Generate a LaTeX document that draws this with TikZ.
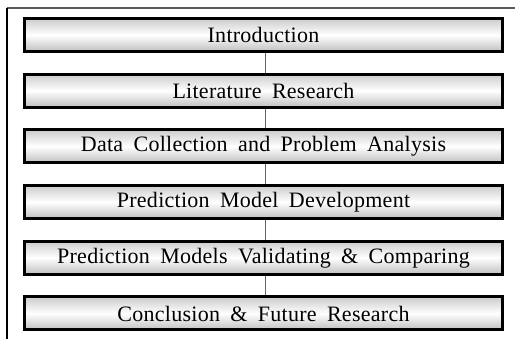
\documentclass[tikz,border=0pt]{standalone}
\usepackage{fontspec}
\setmainfont{Liberation Serif}[WordSpace=1.8,LetterSpace=1.2]
\begin{document}
\begin{tikzpicture}[x=1pt,y=-1pt,
  stagebox/.style={draw=black, line width=3pt, minimum width=478pt, minimum height=33pt,
    inner sep=0pt, top color=gray!40, bottom color=gray!50, middle color=white,
    font=\fontsize{22}{24}\selectfont, text=black},
  link/.style={draw=gray!80!black, line width=0.6pt}]
\useasboundingbox (0,0) rectangle (515,339);
\coordinate (ftl) at (6.5,8);
\coordinate (ftr) at (515,8);
\coordinate (fbl) at (6.5,339);
\draw[gray!70!black, line width=1.4pt] (ftl) -- (ftr);
\draw[black, line width=2pt] (ftl) -- (fbl);
\node[stagebox] (s1) at (263.5,35) {Introduction};
\node[stagebox] (s2) at (263.5,90.7) {Literature Research};
\node[stagebox] (s3) at (263.5,146.4) {Data Collection and Problem Analysis};
\node[stagebox] (s4) at (263.5,202.1) {Prediction Model Development};
\node[stagebox] (s5) at (263.5,257.8) {Prediction Models Validating \& Comparing};
\node[stagebox] (s6) at (263.5,313.5) {Conclusion \& Future Research};
\foreach \a/\b in {s1/s2,s2/s3,s3/s4,s4/s5,s5/s6}
  \draw[link] ([xshift=2.2pt]\a.south) -- ([xshift=2.2pt]\b.north);
\end{tikzpicture}
\end{document}
